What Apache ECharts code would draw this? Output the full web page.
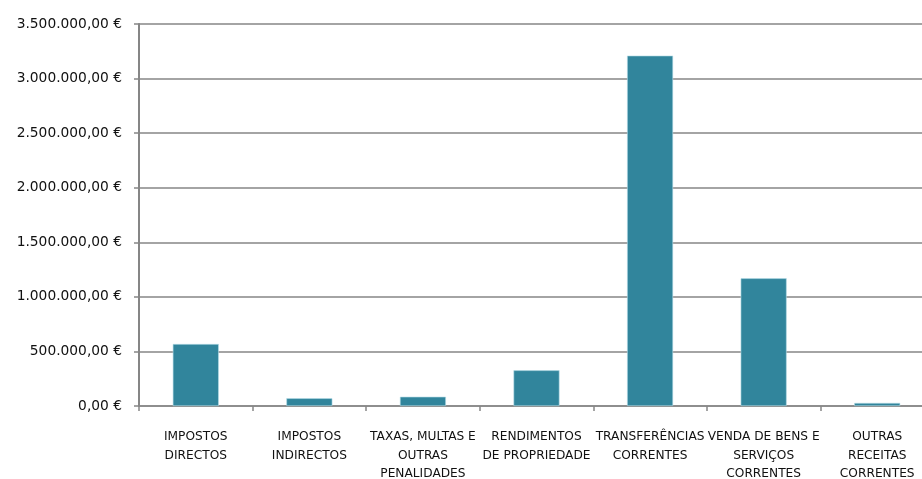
<!DOCTYPE html>
<html>
<head>
<meta charset="utf-8">
<script src="https://cdn.jsdelivr.net/npm/echarts@6/dist/echarts.min.js"></script>
<style>html,body{margin:0;padding:0;background:#fff;overflow:hidden;}#c{width:922px;height:479px;}</style>
</head>
<body>
<div id="c"></div>
<script>
const categories = [
  "IMPOSTOS\nDIRECTOS",
  "IMPOSTOS\nINDIRECTOS",
  "TAXAS, MULTAS E\nOUTRAS\nPENALIDADES",
  "RENDIMENTOS\nDE PROPRIEDADE",
  "TRANSFERÊNCIAS\nCORRENTES",
  "VENDA DE BENS E\nSERVIÇOS\nCORRENTES",
  "OUTRAS\nRECEITAS\nCORRENTES"
];
const values = [568000, 71000, 85000, 327000, 3210000, 1170000, 28000];
const yMin = 0, yMax = 3500000, yStep = 500000;

function fmt(v) {
  const parts = Math.round(v).toString().replace(/\B(?=(\d{3})+(?!\d))/g, ".");
  return parts + ",00 €";
}

const chart = echarts.init(document.getElementById('c'));
chart.setOption({
  animation: false,
  grid: { left: 139, width: 795, top: 24, bottom: 73, containLabel: false, outerBoundsMode: 'none' },
  xAxis: {
    type: 'category',
    data: categories,
    axisLine: { lineStyle: { color: '#868686', width: 1.5 } },
    axisTick: { show: true, length: 5, lineStyle: { color: '#868686', width: 1.5 } },
    axisLabel: { color: '#111', fontFamily: 'DejaVu Sans', fontSize: 12.2, lineHeight: 18.5, margin: 22, interval: 0 }
  },
  yAxis: {
    type: 'value',
    min: yMin, max: yMax, interval: yStep,
    axisLine: { show: true, lineStyle: { color: '#868686', width: 2 } },
    axisTick: { show: true, length: 5, lineStyle: { color: '#868686', width: 1.5 } },
    splitLine: { lineStyle: { color: '#868686', width: 1.5 } },
    axisLabel: { color: '#111', fontFamily: 'DejaVu Sans', fontSize: 13.8, margin: 17, formatter: fmt }
  },
  series: [{
    type: 'bar',
    data: values,
    barWidth: '40.5%',
    itemStyle: { color: '#31859C', borderColor: '#b7dde8', borderWidth: 0.6 }
  }]
});
</script>
</body>
</html>
